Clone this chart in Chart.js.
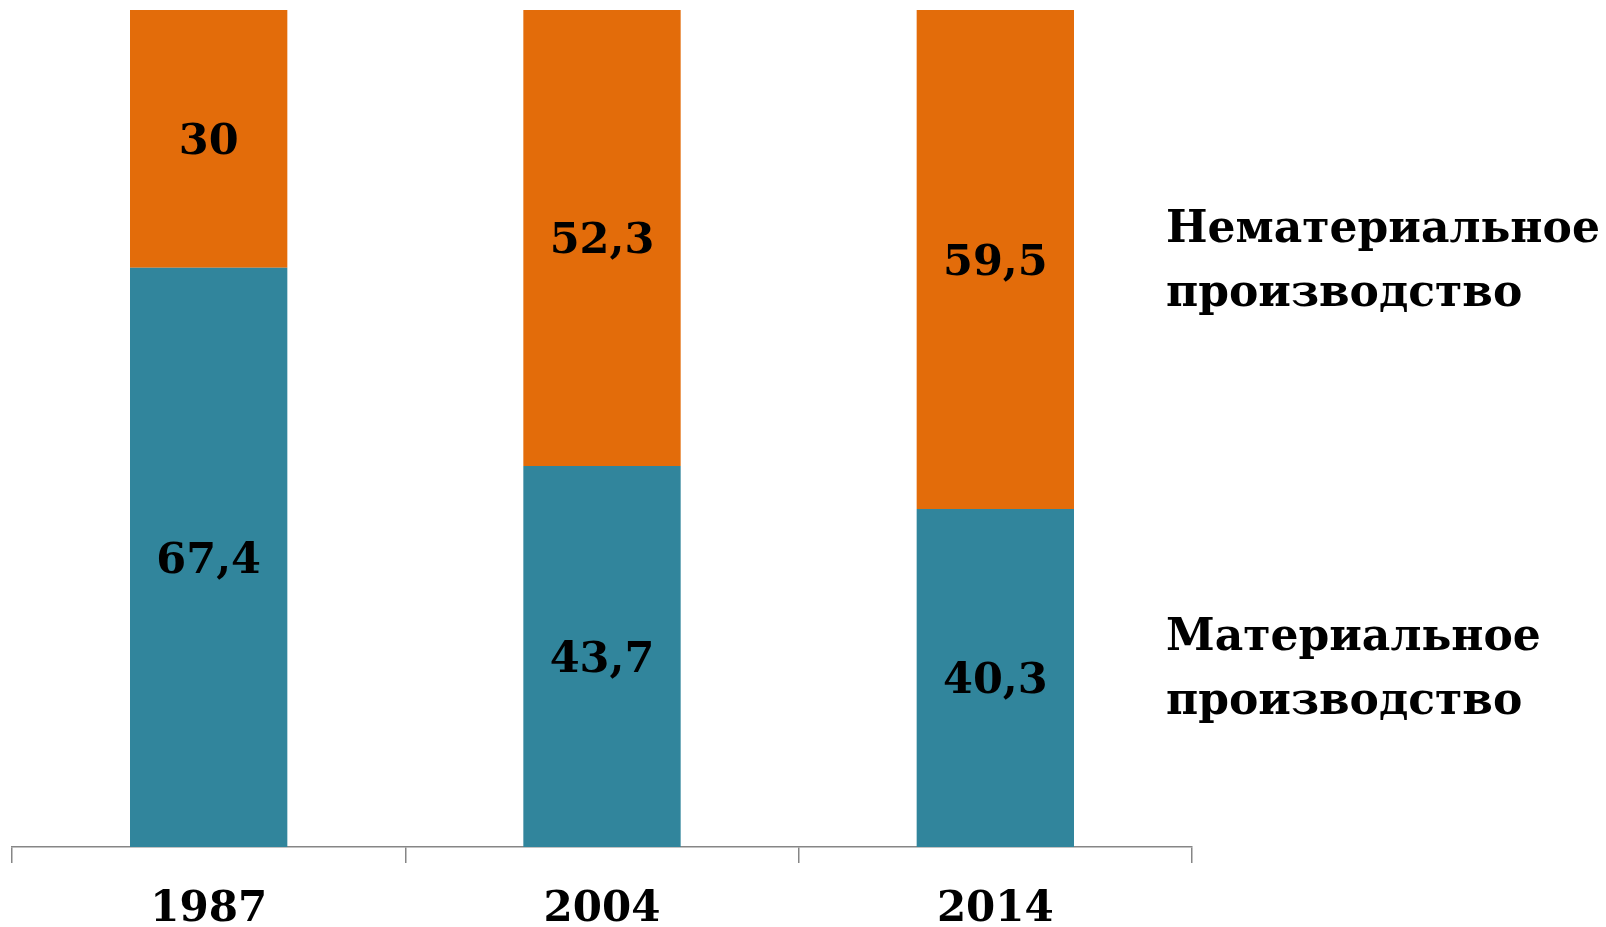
<!DOCTYPE html>
<html>
<head>
<meta charset="utf-8">
<script src="https://cdn.jsdelivr.net/npm/chart.js@4/dist/chart.umd.min.js"></script>
<style>
    html, body { margin: 0; padding: 0; background: #fff; }
    canvas { display: block; }
</style>
</head>
<body>
<canvas id="shareChart" width="1606" height="927"></canvas>
<script>
    // Chart data (shares of employment, %)
    const years = ['1987', '2004', '2014'];
    const materialValues = [67.4, 43.7, 40.3];
    const nonMaterialValues = [30, 52.3, 59.5];
    const seriesNames = ['Материальное производство', 'Нематериальное производство'];

    const FONT = '"DejaVu Serif", "Liberation Serif", serif';
    const colors = ['#31859c', '#e36c0a'];

    // Bars are stacked to 100% like the source chart
    function toShare(values, other) {
        return values.map((v, i) => v / (v + other[i]) * 100);
    }

    // Values drawn in the middle of each segment
    const segmentLabels = {
        id: 'segmentLabels',
        afterDatasetsDraw(chart) {
            const ctx = chart.ctx;
            ctx.save();
            ctx.font = 'bold 43px ' + FONT;
            ctx.fillStyle = '#000';
            ctx.textAlign = 'center';
            ctx.textBaseline = 'middle';
            chart.data.datasets.forEach((ds, di) => {
                chart.getDatasetMeta(di).data.forEach((bar, i) => {
                    const text = String(ds.raw[i]).replace('.', ',');
                    ctx.fillText(text, bar.x, (bar.y + bar.base) / 2 + 4);
                });
            });
            ctx.restore();
        }
    };

    // Series names to the right of the last bar
    const sideLegend = {
        id: 'sideLegend',
        afterDraw(chart) {
            const ctx = chart.ctx;
            const x = chart.chartArea.right - 26;
            const firstLine = [650, 242];
            ctx.save();
            ctx.font = 'bold 44px ' + FONT;
            ctx.fillStyle = '#000';
            ctx.textAlign = 'left';
            ctx.textBaseline = 'alphabetic';
            chart.data.datasets.forEach((ds, di) => {
                ds.label.split(' ').forEach((word, li) => {
                    ctx.fillText(word, x, firstLine[di] + li * 64);
                });
            });
            ctx.restore();
        }
    };

    const ctx = document.getElementById('shareChart').getContext('2d');
    const chart = new Chart(ctx, {
        type: 'bar',
        data: {
            labels: years,
            datasets: [{
                label: seriesNames[0],
                data: toShare(materialValues, nonMaterialValues),
                raw: materialValues,
                backgroundColor: colors[0],
                borderWidth: 0
            }, {
                label: seriesNames[1],
                data: toShare(nonMaterialValues, materialValues),
                raw: nonMaterialValues,
                backgroundColor: colors[1],
                borderWidth: 0
            }]
        },
        options: {
            responsive: false,
            animation: false,
            layout: { padding: { left: 12, top: 10, right: 414, bottom: -30 } },
            datasets: { bar: { barPercentage: 0.4, categoryPercentage: 1 } },
            plugins: {
                legend: { display: false },
                tooltip: { enabled: false }
            },
            scales: {
                x: {
                    stacked: true,
                    grid: {
                        offset: true,
                        drawOnChartArea: false,
                        drawTicks: true,
                        tickLength: 16,
                        color: '#868686',
                        lineWidth: 1.5
                    },
                    border: { color: '#868686', width: 1.5 },
                    ticks: {
                        color: '#000',
                        padding: 26,
                        font: { family: FONT, size: 42, weight: 'bold', lineHeight: 1 }
                    }
                },
                y: {
                    stacked: true,
                    display: false,
                    min: 0,
                    max: 100
                }
            }
        },
        plugins: [segmentLabels, sideLegend]
    });
</script>
</body>
</html>
